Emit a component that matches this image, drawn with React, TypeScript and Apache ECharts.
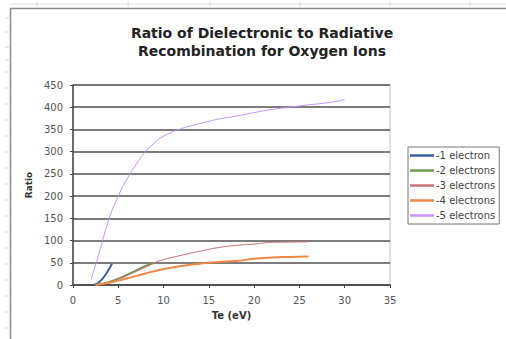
import React, { useEffect, useRef } from "react";
import * as echarts from "echarts";

const TITLE_LINES = ["Ratio of Dielectronic to Radiative", "Recombination for Oxygen Ions"];
const SERIES_NAMES = ["-1 electron", "-2 electrons", "-3 electrons", "-4 electrons", "-5 electrons"];
const SERIES_COLORS = ["#3d5ea8", "#6f9a50", "#c9707a", "#ee8844", "#cc90ff"];
const SERIES_WIDTHS = [2, 2, 1, 2, 1];

// Te (eV), ratio pairs for each ion stage
const oneElectron: [number, number][] = [
  [2.3, 0], [2.8, 5], [3.3, 15], [3.8, 30], [4.3, 48],
];
const twoElectrons: [number, number][] = [
  [2.5, 0], [4, 7], [5, 14], [6, 23], [7, 33], [8, 43], [9, 50],
];
const threeElectrons: [number, number][] = [
  [2.5, 0], [4, 6], [6, 22], [8, 40], [9, 50], [10, 57], [12, 67], [14, 76],
  [16, 84], [18, 89], [20, 92], [22, 96], [26, 97],
];
const fourElectrons: [number, number][] = [
  [2.5, 0], [4, 5], [6, 15], [8, 26], [10, 36], [12, 43], [14, 48], [16, 52],
  [18, 54], [20, 59], [22, 62], [24, 63], [26, 64],
];
const fiveElectrons: [number, number][] = [
  [2, 12], [3, 80], [4, 150], [5, 200], [6, 240], [7, 272], [8, 300], [9, 320],
  [10, 335], [12, 352], [14, 363], [16, 373], [18, 380], [20, 388], [22, 395],
  [25, 403], [28, 410], [30, 417],
];
const seriesData = [oneElectron, twoElectrons, threeElectrons, fourElectrons, fiveElectrons];

const X_MIN = 0, X_MAX = 35, X_STEP = 5;
const Y_MIN = 0, Y_MAX = 450, Y_STEP = 50;

export default function App() {
  const ref = useRef<HTMLDivElement>(null);
  useEffect(() => {
    if (!ref.current) return;
    const chart = echarts.init(ref.current, undefined, { renderer: "svg" });
    const font = "'DejaVu Sans', Verdana, sans-serif";
    chart.setOption({
      animation: false,
      backgroundColor: "#ffffff",
      textStyle: { fontFamily: font },
      title: {
        text: TITLE_LINES.join("\n"),
        left: 257,
        top: 19,
        textAlign: "center",
        textStyle: { fontFamily: font, fontSize: 14, fontWeight: "bold", color: "#222", lineHeight: 18 },
      },
      grid: {
        left: 73, top: 85, right: 116, bottom: 54,
        show: true, borderColor: "#c4c4c4", borderWidth: 1,
      },
      legend: {
        orient: "vertical",
        left: 408,
        top: 147,
        data: SERIES_NAMES,
        icon: "rect",
        itemWidth: 24,
        itemHeight: 2.5,
        itemGap: 4,
        padding: [3, 4, 3, 2],
        borderColor: "#777",
        borderWidth: 1,
        textStyle: { fontFamily: font, fontSize: 10, color: "#444", padding: [0, 0, 0, -3], lineHeight: 11 },
      },
      xAxis: {
        type: "value",
        min: X_MIN, max: X_MAX, interval: X_STEP,
        name: "Te (eV)",
        nameLocation: "middle",
        nameGap: 25,
        nameTextStyle: { fontFamily: font, fontSize: 10, fontWeight: "bold", color: "#333" },
        axisLine: { show: true, onZero: false, lineStyle: { color: "#444", width: 1.5 } },
        axisTick: { show: true, length: 3, lineStyle: { color: "#444" } },
        axisLabel: { fontFamily: font, fontSize: 10, color: "#555", margin: 10 },
        splitLine: { show: false },
      },
      yAxis: {
        type: "value",
        min: Y_MIN, max: Y_MAX, interval: Y_STEP,
        name: "Ratio",
        nameLocation: "middle",
        nameGap: 38,
        nameTextStyle: { fontFamily: font, fontSize: 9, fontWeight: "bold", color: "#333" },
        axisLine: { show: true, lineStyle: { color: "#444", width: 1.5 } },
        axisTick: { show: true, length: 3, lineStyle: { color: "#444" } },
        axisLabel: { fontFamily: font, fontSize: 10, color: "#555", margin: 10 },
        splitLine: { show: true, lineStyle: { color: "#505050", width: 1.5 } },
      },
      series: seriesData.map((d, i) => ({
        name: SERIES_NAMES[i],
        type: "line",
        data: d,
        smooth: 0.5,
        showSymbol: false,
        symbol: "none",
        lineStyle: { color: SERIES_COLORS[i], width: SERIES_WIDTHS[i] },
        itemStyle: { color: SERIES_COLORS[i] },
        z: 3,
      })),
      graphic: [
        { type: "line", shape: { x1: 10, y1: 4, x2: 506, y2: 4 }, style: { stroke: "#e2e2e2", lineWidth: 1 }, silent: true },
        { type: "line", shape: { x1: 10, y1: 8.5, x2: 506, y2: 8.5 }, style: { stroke: "#8a8a8a", lineWidth: 1.5 }, silent: true },
        { type: "line", shape: { x1: 10.5, y1: 8, x2: 10.5, y2: 339 }, style: { stroke: "#8a8a8a", lineWidth: 1.5 }, silent: true },
        ...[37, 128, 210, 300, 390, 470].map((x) => ({
          type: "line", shape: { x1: x, y1: 2, x2: x, y2: 7 }, style: { stroke: "#d8d8d8", lineWidth: 1 }, silent: true,
        })),
        ...[18, 32, 47, 60, 72, 88, 104, 120, 136, 152, 168, 184, 200, 216, 232, 248, 264, 280, 296, 312, 328].map((y) => ({
          type: "line", shape: { x1: 5, y1: y, x2: 9, y2: y }, style: { stroke: "#d8d8d8", lineWidth: 1 }, silent: true,
        })),
      ],
    });
    return () => chart.dispose();
  }, []);
  return <div ref={ref} style={{ position: "fixed", left: 0, top: 0, width: 506, height: 339 }} />;
}
